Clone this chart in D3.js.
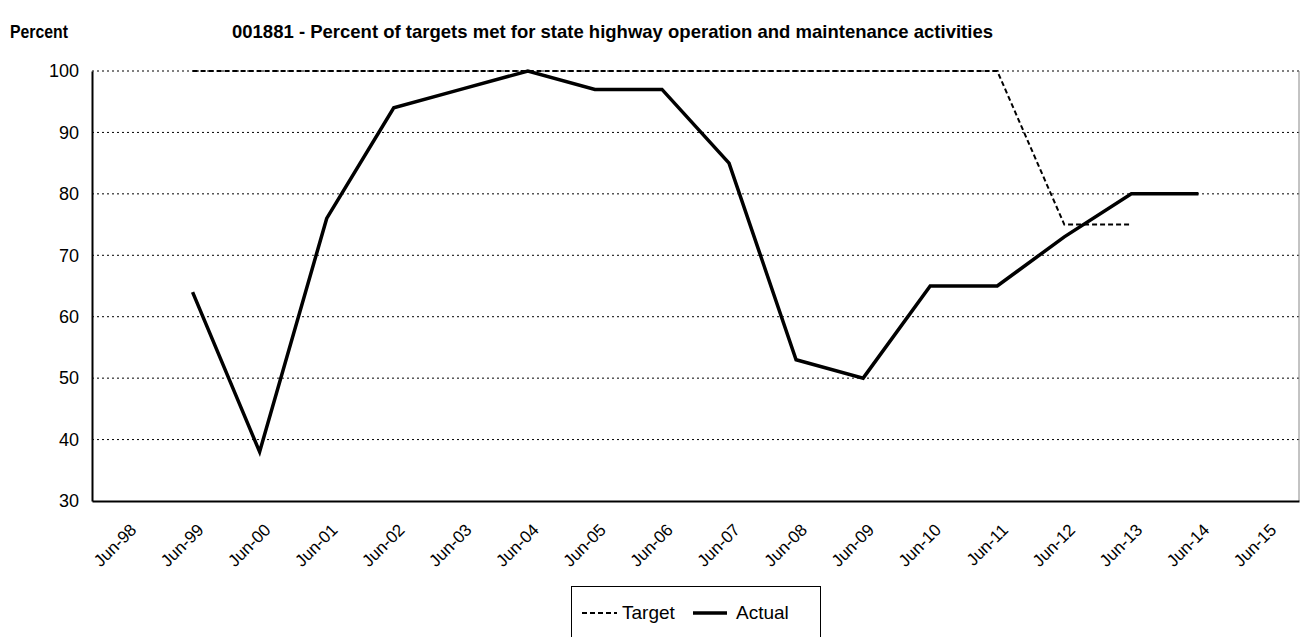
<!DOCTYPE html>
<html>
<head>
<meta charset="utf-8">
<script src="https://cdn.jsdelivr.net/npm/d3@7"></script>
<style>
  body { margin: 0; background: #fff; }
  svg { display: block; font-family: "Liberation Sans", Arial, sans-serif; }
</style>
</head>
<body>
<svg id="chart" width="1306" height="637"></svg>
<script>
// Category axis, one band per year.
const categories = ["Jun-98", "Jun-99", "Jun-00", "Jun-01", "Jun-02", "Jun-03", "Jun-04", "Jun-05", "Jun-06",
  "Jun-07", "Jun-08", "Jun-09", "Jun-10", "Jun-11", "Jun-12", "Jun-13", "Jun-14", "Jun-15"];
const targetValues = [null, 100, 100, 100, 100, 100, 100, 100, 100, 100, 100, 100, 100, 100, 75, 75, null, null];
const actualValues = [null, 64, 38, 76, 94, 97, 100, 97, 97, 85, 53, 50, 65, 65, 73, 80, 80, null];
const yTicks = [30, 40, 50, 60, 70, 80, 90, 100];

const FONT = "Liberation Sans, Arial, sans-serif";
const svg = d3.select("#chart");
const margin = { left: 92, right: 7, top: 71, bottom: 136 };
const width = 1306;
const height = 637;

const x = d3.scaleBand().domain(categories).range([margin.left, width - margin.right]);
const y = d3.scaleLinear().domain([30, 100]).range([height - margin.bottom, margin.top]);
const cx = (c) => x(c) + x.bandwidth() / 2;

// Titles, slightly condensed like the original export.
svg.append("text").attr("x", 10).attr("y", 38)
  .attr("font-size", 19).attr("font-weight", "bold")
  .attr("textLength", 58).attr("lengthAdjust", "spacingAndGlyphs")
  .text("Percent");
svg.append("text").attr("x", 232).attr("y", 38)
  .attr("font-size", 19).attr("font-weight", "bold")
  .attr("textLength", 761).attr("lengthAdjust", "spacingAndGlyphs")
  .text("001881 - Percent of targets met for state highway operation and maintenance activities");

// Dotted gridlines.
svg.append("g").selectAll("line")
  .data(yTicks.filter((t) => t > 30))
  .join("line")
  .attr("x1", margin.left).attr("x2", width - margin.right)
  .attr("y1", (d) => y(d)).attr("y2", (d) => y(d))
  .attr("stroke", "#000").attr("stroke-width", 1).attr("stroke-dasharray", "2,3");

// Thin right border of the plot area.
svg.append("line")
  .attr("x1", width - margin.right).attr("x2", width - margin.right)
  .attr("y1", margin.top).attr("y2", height - margin.bottom)
  .attr("stroke", "#888").attr("stroke-width", 1);

// Y axis.
const yAxis = svg.append("g")
  .attr("transform", `translate(${margin.left},0)`)
  .call(d3.axisLeft(y).tickValues(yTicks).tickSize(0).tickPadding(13));
yAxis.select(".domain").attr("stroke", "#000").attr("stroke-width", 2);
yAxis.selectAll("text").attr("font-size", 18).attr("fill", "#000").attr("font-family", FONT);

// X axis with rotated labels.
const xAxis = svg.append("g")
  .attr("transform", `translate(0,${height - margin.bottom})`)
  .call(d3.axisBottom(x).tickSize(0).tickPadding(0));
xAxis.select(".domain").attr("stroke", "#000").attr("stroke-width", 2);
xAxis.selectAll("text")
  .attr("font-size", 17).attr("fill", "#000").attr("font-family", FONT)
  .attr("text-anchor", "end")
  .attr("y", 0).attr("dy", 0)
  .attr("transform", "translate(12,30) rotate(-45)");

// Series lines.
const line = d3.line()
  .defined((d) => d.v != null)
  .x((d) => cx(d.c))
  .y((d) => y(d.v));

const asPoints = (vals) => categories.map((c, i) => ({ c, v: vals[i] }));

svg.append("path")
  .datum(asPoints(targetValues))
  .attr("d", line)
  .attr("fill", "none").attr("stroke", "#000")
  .attr("stroke-width", 2).attr("stroke-dasharray", "5,3");

svg.append("path")
  .datum(asPoints(actualValues))
  .attr("d", line)
  .attr("fill", "none").attr("stroke", "#000")
  .attr("stroke-width", 3.5).attr("stroke-linejoin", "miter");

// Legend.
const legend = svg.append("g");
legend.append("rect")
  .attr("x", 571.5).attr("y", 586.5).attr("width", 249).attr("height", 60)
  .attr("fill", "#fff").attr("stroke", "#000").attr("stroke-width", 1);
legend.append("line")
  .attr("x1", 582).attr("x2", 617).attr("y1", 613).attr("y2", 613)
  .attr("stroke", "#000").attr("stroke-width", 2).attr("stroke-dasharray", "5,3");
legend.append("text").attr("x", 622).attr("y", 619).attr("font-size", 19).text("Target");
legend.append("line")
  .attr("x1", 693).attr("x2", 727).attr("y1", 613).attr("y2", 613)
  .attr("stroke", "#000").attr("stroke-width", 3.5);
legend.append("text").attr("x", 736).attr("y", 619).attr("font-size", 19).text("Actual");
</script>
</body>
</html>
